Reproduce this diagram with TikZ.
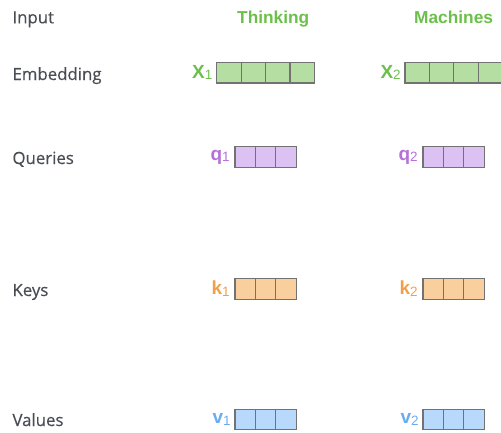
\documentclass[tikz,border=0pt]{standalone}
\usepackage{fontspec}
\setmainfont{Liberation Sans}
\newfontfamily\headfont[FakeBold=0.35]{Open Sans}
\usepackage{tikz}
\usetikzlibrary{positioning}

\definecolor{headgray}{HTML}{494E55}
\definecolor{cellgray}{HTML}{727272}
\definecolor{wordgreen}{HTML}{6CC04A}
\definecolor{embfill}{HTML}{B4DEA2}
\definecolor{qtext}{HTML}{B670D9}
\definecolor{qfill}{HTML}{DCC2F2}
\definecolor{ktext}{HTML}{F2A047}
\definecolor{kfill}{HTML}{F9CF9D}
\definecolor{vtext}{HTML}{6AACF0}
\definecolor{vfill}{HTML}{B8D9FB}

\newcommand{\vname}[2]{\textbf{#1}\raisebox{-1.5pt}{\fontsize{13.5}{14}\selectfont #2}}

\begin{document}
\begin{tikzpicture}[x=1pt,y=-1pt,on grid,
		rowhead/.style={anchor=base west,inner sep=0pt,text=headgray,font=\headfont\fontsize{16.8}{20}\selectfont},
		word/.style={anchor=base west,inner sep=0pt,text=wordgreen,font=\bfseries\fontsize{17.3}{20}\selectfont},
		vec/.style={anchor=east,inner sep=0pt,font=\fontsize{19}{20}\selectfont},
		cell/.style={rectangle,draw=cellgray,line width=1.2pt,inner sep=0pt,minimum height=20.6pt},
		embcell/.style={cell,fill=embfill,minimum width=24.4pt},
		qcell/.style={cell,fill=qfill,minimum width=20.4pt},
		kcell/.style={cell,fill=kfill,minimum width=20.4pt},
		vcell/.style={cell,fill=vfill,minimum width=20.4pt}]
		\useasboundingbox (0,0) rectangle (501,432);
		\clip (0,0) rectangle (501,432);
		
		% row headings
		\node[rowhead] (input)     at (12.3,23.3) {Input};
		\node[rowhead] (embedding) at (12.3,80)   {Embedding};
		\node[rowhead] (queries)   at (12.3,164)  {Queries};
		\node[rowhead] (keys)      at (12.3,296)  {Keys};
		\node[rowhead] (values)    at (12.3,426)  {Values};
		
		\node[word] (thinking) at (237,23.3) {Thinking};
		\node[word] (machines) at (414,23.3) {Machines};
		
		% embeddings
		\node[embcell] (x1a) at (228.9,72.6) {};
		\node[embcell] (x1b) [right=24.4pt of x1a] {};
		\node[embcell] (x1c) [right=24.4pt of x1b] {};
		\node[embcell] (x1d) [right=24.4pt of x1c] {};
		\node[embcell] (x2a) at (417.2,72.6) {};
		\node[embcell] (x2b) [right=24.4pt of x2a] {};
		\node[embcell] (x2c) [right=24.4pt of x2b] {};
		\node[embcell] (x2d) [right=24.4pt of x2c] {};
		\node[vec,text=wordgreen] (lx1) at ([xshift=-3.5pt]x1a.west) {\vname{X}{1}};
		\node[vec,text=wordgreen] (lx2) at ([xshift=-3.5pt]x2a.west) {\vname{X}{2}};
		
		% queries
		\node[qcell] (q1a) at (245.2,157) {};
		\node[qcell] (q1b) [right=20.4pt of q1a] {};
		\node[qcell] (q1c) [right=20.4pt of q1b] {};
		\node[qcell] (q2a) at (433.2,157) {};
		\node[qcell] (q2b) [right=20.4pt of q2a] {};
		\node[qcell] (q2c) [right=20.4pt of q2b] {};
		\node[vec,text=qtext] (lq1) at ([xshift=-4.5pt]q1a.west) {\vname{q}{1}};
		\node[vec,text=qtext] (lq2) at ([xshift=-4.5pt]q2a.west) {\vname{q}{2}};
		
		% keys
		\node[kcell] (k1a) at (245.2,288.8) {};
		\node[kcell] (k1b) [right=20.4pt of k1a] {};
		\node[kcell] (k1c) [right=20.4pt of k1b] {};
		\node[kcell] (k2a) at (433.2,288.8) {};
		\node[kcell] (k2b) [right=20.4pt of k2a] {};
		\node[kcell] (k2c) [right=20.4pt of k2b] {};
		\node[vec,text=ktext] (lk1) at ([xshift=-4.5pt]k1a.west) {\vname{k}{1}};
		\node[vec,text=ktext] (lk2) at ([xshift=-4.5pt]k2a.west) {\vname{k}{2}};
		
		% values
		\node[vcell] (v1a) at (245.2,419.4) {};
		\node[vcell] (v1b) [right=20.4pt of v1a] {};
		\node[vcell] (v1c) [right=20.4pt of v1b] {};
		\node[vcell] (v2a) at (433.2,419.4) {};
		\node[vcell] (v2b) [right=20.4pt of v2a] {};
		\node[vcell] (v2c) [right=20.4pt of v2b] {};
		\node[vec,text=vtext] (lv1) at ([xshift=-3.5pt]v1a.west) {\vname{v}{1}};
		\node[vec,text=vtext] (lv2) at ([xshift=-3.5pt]v2a.west) {\vname{v}{2}};
\end{tikzpicture}
\end{document}
